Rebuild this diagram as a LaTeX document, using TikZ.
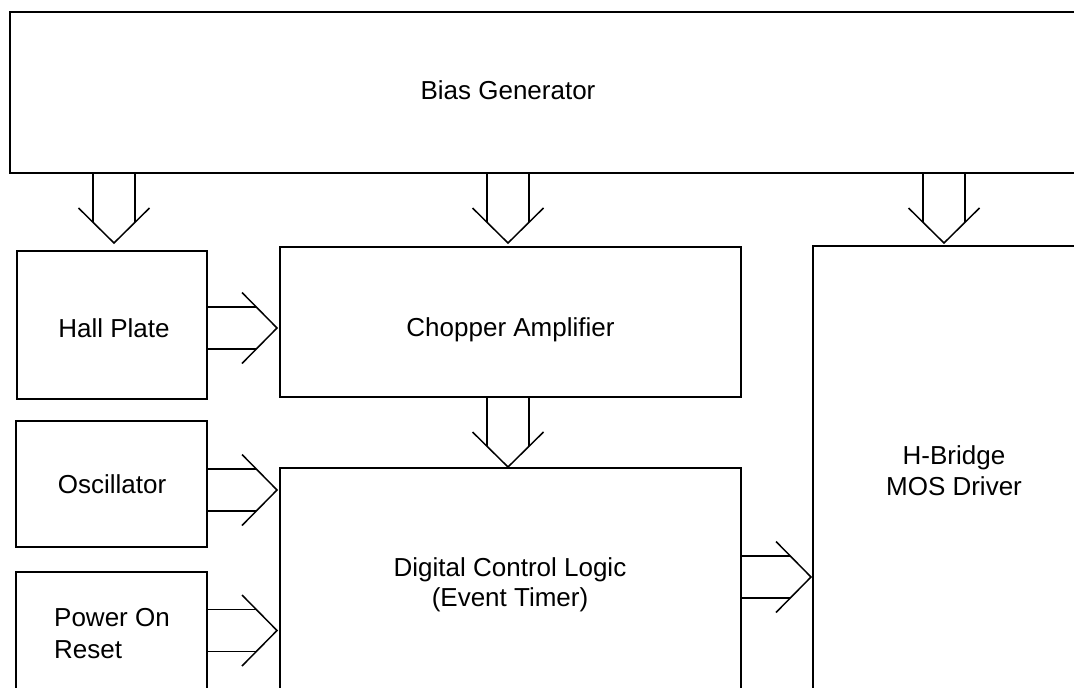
\documentclass[tikz,border=0pt]{standalone}
\usepackage{fontspec}
\setmainfont{Liberation Sans}
\usetikzlibrary{calc}
\tikzset{
  blk/.style={draw=black, line width=1.6pt, rectangle, inner sep=0pt, anchor=north west},
  lbl/.style={inner sep=0pt, font=\fontsize{26}{30.7}\selectfont, anchor=base},
  fat/.style={draw=black, line width=1.5pt},
}
% fat down arrow: #1 source node, #2 target node, #3 x coordinate name, #4 gap above target
\newcommand{\fatdown}[4]{%
  \coordinate (fs) at (#3 |- #1.south);
  \coordinate (ft) at ($(#3 |- #2.north)+(0,-#4)$);
  \draw[fat] ($(fs)+(-21,0)$) -- ($(ft)+(-21,-20.7)$);
  \draw[fat] ($(fs)+(21,0)$) -- ($(ft)+(21,-20.7)$);
  \draw[fat] ($(ft)+(-35.5,-35)$) -- (ft) -- ($(ft)+(35.5,-35)$);
}
% fat right arrow: #1 source node, #2 target node, #3 y coordinate name, #4 gap left of target
\newcommand{\fatright}[4]{%
  \coordinate (fs) at (#1.east |- #3);
  \coordinate (ft) at ($(#2.west |- #3)+(-#4,0)$);
  \draw[fat] ($(fs)+(0,-21)$) -- ($(ft)+(-20.7,-21)$);
  \draw[fat] ($(fs)+(0,21)$) -- ($(ft)+(-20.7,21)$);
  \draw[fat] ($(ft)+(-35,-35.5)$) -- (ft) -- ($(ft)+(-35,35.5)$);
}
\begin{document}
\begin{tikzpicture}[x=1pt, y=-1pt]
\useasboundingbox (0,0) rectangle (1074,688);
\clip (0,0) rectangle (1074,688);
\fill[white] (0,0) rectangle (1074,688);

% blocks
\node[blk, minimum width=1090pt, minimum height=161pt] (bias) at (9,11) {};
\node[blk, minimum width=190pt, minimum height=148pt] (hall) at (16,250) {};
\node[blk, minimum width=461pt, minimum height=150pt] (chop) at (279,246) {};
\node[blk, minimum width=191pt, minimum height=126pt] (osc) at (15,420) {};
\node[blk, minimum width=461pt, minimum height=240pt] (dig) at (279,467) {};
\node[blk, minimum width=191pt, minimum height=140pt] (por) at (15,571) {};
\node[blk, minimum width=300pt, minimum height=470pt] (hb) at (812,245) {};

% labels (multi-line nodes: base anchor is on the last line)
\node[lbl, font=\fontsize{26}{30}\selectfont] (tbias) at (508,99.3) {Bias Generator};
\node[lbl] (thall) at (114,337.3) {Hall Plate};
\node[lbl] (tchop) at (510.5,336) {Chopper Amplifier};
\node[lbl] (tosc) at (112,493) {Oscillator};
\node[lbl, align=center] (tdig) at (510,606.7) {Digital Control Logic\\(Event Timer)};
\node[lbl, align=left, anchor=base west, font=\fontsize{26}{32}\selectfont] (tpor) at (54,658) {Power On\\Reset};
\node[lbl, align=center] (thb) at (954,495) {H-Bridge\\MOS Driver};

% arrow positions
\coordinate (xa) at (114,0);
\coordinate (xb) at (508,0);
\coordinate (xc) at (944,0);
\coordinate (ya) at (0,328);
\coordinate (yb) at (0,490);
\coordinate (yc) at (0,630.5);
\coordinate (yd) at (0,577);

\fatdown{bias}{hall}{xa}{7}
\fatdown{bias}{chop}{xb}{3}
\fatdown{bias}{hb}{xc}{2}
\fatdown{chop}{dig}{xb}{0}
\fatright{hall}{chop}{ya}{2}
\fatright{osc}{dig}{yb}{2}
\fatright{por}{dig}{yc}{2}
\fatright{dig}{hb}{yd}{1}
\end{tikzpicture}
\end{document}
